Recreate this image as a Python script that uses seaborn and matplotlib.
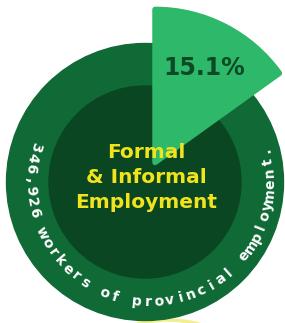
import numpy as np
import seaborn as sns
import matplotlib.pyplot as plt
from matplotlib.patches import Circle, Arc

sns.set_theme(style="white")
plt.rcParams['font.family'] = ['DejaVu Sans']

# data
share_label = "15.1%"
share_values = [15.1, 100 - 15.1]
center_lines = ["Formal", "& Informal", "Employment"]
ring_text = "346,926 workers of provincial employment."

ring_color = "#0f6a36"
inner_color = "#0a4621"
wedge_color = "#2eb86a"
yellow = "#f2e41c"

fig = plt.figure(figsize=(2.85, 3.23), dpi=100)
ax = fig.add_axes([0, 0, 1, 1])

cx, cy = 145, 141

# faint yellow arc peeking out at the bottom
ax.add_patch(Arc((168, -117), 240, 240, theta1=60, theta2=120,
                 color="#f3ee8c", lw=2.5, zorder=0))

# ring + inner disc
ax.add_patch(Circle((cx, cy), 138.5, color=ring_color, zorder=1))
ax.add_patch(Circle((cx, cy), 96, color=inner_color, zorder=2))

# highlighted share, exploded out of the ring
wedges, _ = ax.pie(share_values, startangle=90, counterclock=False,
                   radius=153, center=(cx, cy), explode=[22, 0],
                   colors=[wedge_color, "none"], frame=True,
                   wedgeprops=dict(linewidth=4, joinstyle='round'))
wedges[0].set_edgecolor(wedge_color)
wedges[1].set_edgecolor("none")
for w in wedges:
    w.set_zorder(3)
ax.set_xlim(0, 285)
ax.set_ylim(0, 323)
ax.set_aspect('equal')
ax.axis('off')

ax.text(204, 255, share_label, ha='center', va='center', fontsize=17,
        fontweight='bold', color="#0c4a25", zorder=5)

for i, line in enumerate(center_lines):
    ax.text(146, 171 - i * 25.5, line, ha='center', va='center',
            fontsize=14.5, fontweight='bold', color=yellow, zorder=5)

# text running round the ring (path centre sits a bit right of the disc)
tx, ty, r_text = cx + 5, cy, 120
start, step = 163, 5.3
for i, ch in enumerate(ring_text):
    th = start + i * step
    t = np.radians(th)
    ax.text(tx + r_text * np.cos(t), ty + r_text * np.sin(t), ch,
            ha='center', va='center', rotation=th + 90,
            rotation_mode='anchor', fontsize=10, fontweight='bold',
            color='white', zorder=5)

fig.savefig("out.png", dpi=100)
